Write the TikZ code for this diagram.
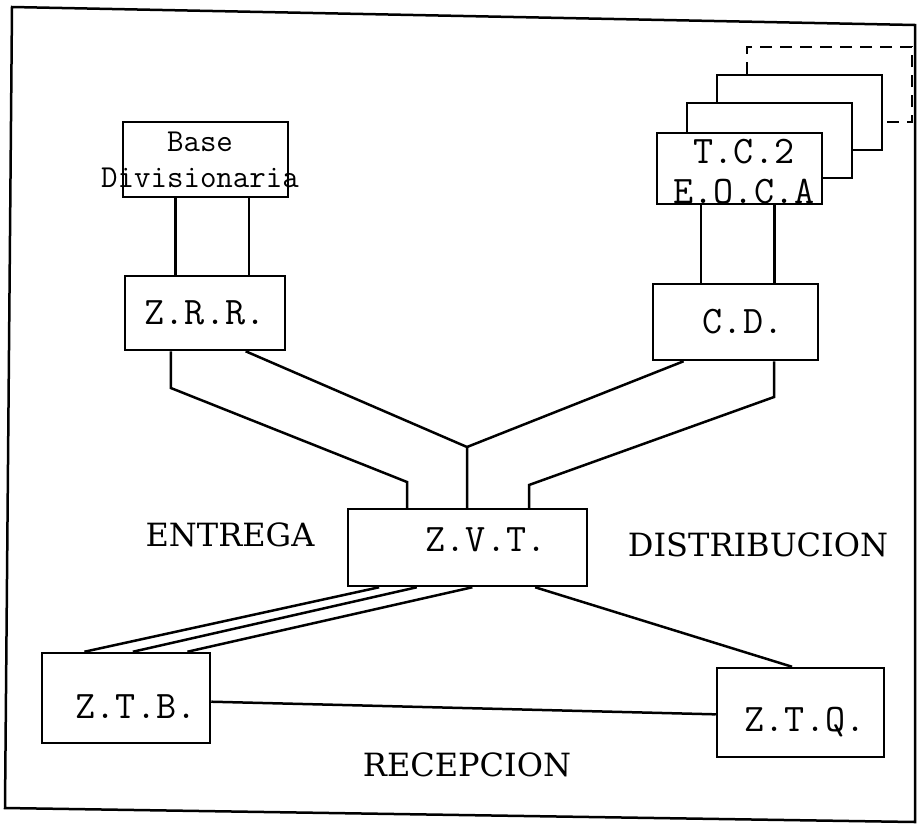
\documentclass[tikz,border=0pt]{standalone}
\usepackage{fontspec}
\newfontfamily\rotulofont{DejaVu Serif}
\usepackage{tikz}
\usetikzlibrary{calc}

\begin{document}
\begin{tikzpicture}[x=1pt, y=-1pt, line width=2.5pt,
  caja/.style={draw, fill=white, inner sep=0pt, minimum width=165, minimum height=75},
  texto/.style={font=\ttfamily\fontsize{39}{40}\selectfont},
  rotulo/.style={font=\rotulofont\fontsize{32}{36}\selectfont}]

  \useasboundingbox (0,0) rectangle (917,828);

  % Marco
  \draw (12,7) -- (915,25) -- (915,822) -- (5,808) -- cycle;

  % Pila T.C.2 (de atras hacia adelante)
  \node[caja, dashed, dash pattern=on 12pt off 8pt] (tcd) at (829.5,84.5) {};
  \node[caja] (tcc) at (799.5,112.5) {};
  \node[caja] (tcb) at (769.5,140.5) {};
  \node[caja, minimum height=71] (tca) at (739.5,168.5) {};
  \node[texto, align=center, font=\ttfamily\fontsize{39}{40}\selectfont] (tcat) at (744,172) {T.C.2\\E.O.C.A};

  % Cajas
  \node[caja] (base) at (205.5,159.5) {};
  \node[align=center, font=\ttfamily\fontsize{32}{36}\selectfont] (baset) at (200,160)
    {\makebox[0pt]{Base}\\\makebox[0pt]{Divisionaria}};
  \node[caja, minimum width=160, minimum height=74] (zrr) at (205,313) {};
  \node[texto] (zrrt) at (205,313) {Z.R.R.};
  \node[caja, minimum height=76] (cd) at (735.5,322) {};
  \node[texto] (cdt) at (743,322) {C.D.};
  \node[caja, minimum width=239, minimum height=77] (zvt) at (467.5,547.5) {};
  \node[texto] (zvtt) at (486,540) {Z.V.T.};
  \node[caja, minimum width=168, minimum height=90] (ztb) at (126,698) {};
  \node[texto] (ztbt) at (136,707) {Z.T.B.};
  \node[caja, minimum width=167, minimum height=89] (ztq) at (800.5,712.5) {};
  \node[texto] (ztqt) at (805,722) {Z.T.Q.};

  % Rotulos
  \node[rotulo] (entrega) at (230,535) {ENTREGA};
  \node[rotulo] (distribucion) at (758,545) {DISTRIBUCION};
  \node[rotulo] (recepcion) at (467,765) {RECEPCION};

  % Puntos de quiebre
  \coordinate (codo1) at (171,388);
  \coordinate (codo2) at (407,482);
  \coordinate (cruce) at (467,447);
  \coordinate (codo3) at (773,397);
  \coordinate (codo4) at (529,485);

  % Base -> Z.R.R. y T.C.2 -> C.D.
  \coordinate (bz1) at ($(base.south west)!0.32!(base.south east)$);
  \coordinate (bz2) at ($(base.south west)!0.76!(base.south east)$);
  \draw (bz1) -- (bz1 |- zrr.north);
  \draw (bz2) -- (bz2 |- zrr.north);
  \coordinate (tc1) at ($(tca.south west)!0.27!(tca.south east)$);
  \coordinate (tc2) at ($(tca.south west)!0.71!(tca.south east)$);
  \draw (tc1) -- (tc1 |- cd.north);
  \draw (tc2) -- (tc2 |- cd.north);

  % Z.R.R. y C.D. -> Z.V.T.
  \coordinate (zr1) at ($(zrr.south west)!0.29!(zrr.south east)$);
  \coordinate (zr2) at ($(zrr.south west)!0.75!(zrr.south east)$);
  \coordinate (cd1) at ($(cd.south west)!0.19!(cd.south east)$);
  \coordinate (cd2) at ($(cd.south west)!0.73!(cd.south east)$);
  \draw (zr1) -- (zr1 |- codo1) -- (codo2) -- (codo2 |- zvt.north);
  \draw (zr2) -- (cruce) -- (cruce |- zvt.north);
  \draw (cd1) -- (cruce);
  \draw (cd2) -- (cd2 |- codo3) -- (codo4) -- (codo4 |- zvt.north);

  % Z.V.T. -> Z.T.B. y Z.T.Q.
  \foreach \a/\b in {0.134/0.256, 0.29/0.54, 0.52/0.86}
    \draw ($(zvt.south west)!\a!(zvt.south east)$) -- ($(ztb.north west)!\b!(ztb.north east)$);
  \draw ($(zvt.south west)!0.78!(zvt.south east)$) -- ($(ztq.north west)!0.45!(ztq.north east)$);
  \draw ($(ztb.north east)!0.54!(ztb.south east)$) -- ($(ztq.north west)!0.52!(ztq.south west)$);

\end{tikzpicture}
\end{document}
